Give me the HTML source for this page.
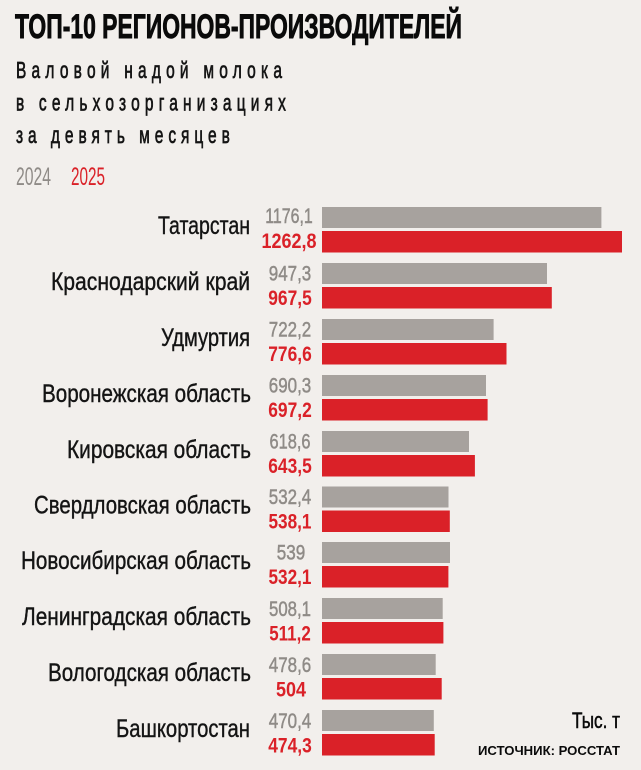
<!DOCTYPE html>
<html>
<head>
<meta charset="utf-8">
<style>
html,body{margin:0;padding:0;background:#f2efec;}
svg{display:block;}
text{font-family:"Liberation Sans","Noto Sans CJK SC",sans-serif;}
</style>
</head>
<body>
<svg width="641" height="770" viewBox="0 0 641 770" xmlns="http://www.w3.org/2000/svg">
<rect x="0" y="0" width="641" height="770" fill="#f2efec"/>

<!-- Title -->
<text x="15" y="38" font-size="34" font-weight="bold" fill="#0a0a0a" stroke="#0a0a0a" stroke-width="0.9" textLength="447" lengthAdjust="spacingAndGlyphs">ТОП-10 РЕГИОНОВ-ПРОИЗВОДИТЕЛЕЙ</text>

<!-- Subtitle -->
<g transform="translate(16,0) scale(0.66,1)" fill="#141414" stroke="#141414" stroke-width="0.7" font-size="23.5">
<text x="0" y="78" textLength="403" lengthAdjust="spacing">Валовой надой молока</text>
<text x="0" y="110.5" textLength="409" lengthAdjust="spacing">в сельхозорганизациях</text>
<text x="0" y="143" textLength="324" lengthAdjust="spacing">за девять месяцев</text>
</g>

<!-- Legend -->
<text x="16" y="185" font-size="25" fill="#8f8b87" textLength="35" lengthAdjust="spacingAndGlyphs">2024</text>
<text x="71" y="185" font-size="25" fill="#da2128" textLength="34" lengthAdjust="spacingAndGlyphs">2025</text>

<!-- Bars -->
<g>
<rect x="322" y="207" width="279.4" height="21" fill="#a7a29e"/>
<rect x="322" y="231" width="300" height="21.5" fill="#da2128"/>

<rect x="322" y="263" width="225" height="21" fill="#a7a29e"/>
<rect x="322" y="287" width="229.8" height="21.5" fill="#da2128"/>

<rect x="322" y="319" width="171.6" height="21" fill="#a7a29e"/>
<rect x="322" y="343" width="184.5" height="21.5" fill="#da2128"/>

<rect x="322" y="375" width="164" height="21" fill="#a7a29e"/>
<rect x="322" y="399" width="165.6" height="21.5" fill="#da2128"/>

<rect x="322" y="431" width="147" height="21" fill="#a7a29e"/>
<rect x="322" y="455" width="152.9" height="21.5" fill="#da2128"/>

<rect x="322" y="486.5" width="126.5" height="21" fill="#a7a29e"/>
<rect x="322" y="510.5" width="127.8" height="21.5" fill="#da2128"/>

<rect x="322" y="542" width="128" height="21" fill="#a7a29e"/>
<rect x="322" y="566" width="126.4" height="21.5" fill="#da2128"/>

<rect x="322" y="598" width="120.7" height="21" fill="#a7a29e"/>
<rect x="322" y="622" width="121.4" height="21.5" fill="#da2128"/>

<rect x="322" y="654" width="113.7" height="21" fill="#a7a29e"/>
<rect x="322" y="678" width="119.7" height="21.5" fill="#da2128"/>

<rect x="322" y="710" width="111.8" height="21" fill="#a7a29e"/>
<rect x="322" y="734" width="112.7" height="21.5" fill="#da2128"/>
</g>

<!-- Region labels -->
<g font-size="25" fill="#141414" stroke="#141414" stroke-width="0.4" text-anchor="end">
<text x="250" y="234" textLength="92" lengthAdjust="spacingAndGlyphs">Татарстан</text>
<text x="250" y="290" textLength="199" lengthAdjust="spacingAndGlyphs">Краснодарский край</text>
<text x="250" y="346" textLength="89" lengthAdjust="spacingAndGlyphs">Удмуртия</text>
<text x="251" y="402" textLength="209" lengthAdjust="spacingAndGlyphs">Воронежская область</text>
<text x="251" y="458" textLength="184" lengthAdjust="spacingAndGlyphs">Кировская область</text>
<text x="251" y="513.5" textLength="217" lengthAdjust="spacingAndGlyphs">Свердловская область</text>
<text x="251" y="569" textLength="230" lengthAdjust="spacingAndGlyphs">Новосибирская область</text>
<text x="251" y="625" textLength="229" lengthAdjust="spacingAndGlyphs">Ленинградская область</text>
<text x="251" y="681" textLength="203" lengthAdjust="spacingAndGlyphs">Вологодская область</text>
<text x="250" y="737" textLength="134" lengthAdjust="spacingAndGlyphs">Башкортостан</text>
</g>

<!-- Values 2024 -->
<g font-size="21.5" fill="#8f8b87" stroke="#8f8b87" stroke-width="0.5" text-anchor="middle">
<text x="289" y="223" textLength="47.5" lengthAdjust="spacingAndGlyphs">1176,1</text>
<text x="290" y="280.5" textLength="42.5" lengthAdjust="spacingAndGlyphs">947,3</text>
<text x="290" y="336.5" textLength="42.5" lengthAdjust="spacingAndGlyphs">722,2</text>
<text x="290" y="392.5" textLength="42.5" lengthAdjust="spacingAndGlyphs">690,3</text>
<text x="290" y="448.5" textLength="41" lengthAdjust="spacingAndGlyphs">618,6</text>
<text x="290" y="504" textLength="42.5" lengthAdjust="spacingAndGlyphs">532,4</text>
<text x="291" y="559.5" textLength="28.5" lengthAdjust="spacingAndGlyphs">539</text>
<text x="290" y="616" textLength="42" lengthAdjust="spacingAndGlyphs">508,1</text>
<text x="290" y="672" textLength="42.5" lengthAdjust="spacingAndGlyphs">478,6</text>
<text x="290" y="728" textLength="42.5" lengthAdjust="spacingAndGlyphs">470,4</text>
</g>

<!-- Values 2025 -->
<g font-size="21.5" font-weight="bold" fill="#da2128" text-anchor="middle">
<text x="289" y="248" textLength="55" lengthAdjust="spacingAndGlyphs">1262,8</text>
<text x="290" y="305" textLength="43.5" lengthAdjust="spacingAndGlyphs">967,5</text>
<text x="290" y="361" textLength="43.5" lengthAdjust="spacingAndGlyphs">776,6</text>
<text x="290" y="417" textLength="43.5" lengthAdjust="spacingAndGlyphs">697,2</text>
<text x="290" y="473" textLength="43.5" lengthAdjust="spacingAndGlyphs">643,5</text>
<text x="290" y="528.5" textLength="43" lengthAdjust="spacingAndGlyphs">538,1</text>
<text x="290" y="584" textLength="43" lengthAdjust="spacingAndGlyphs">532,1</text>
<text x="290" y="640.5" textLength="41.5" lengthAdjust="spacingAndGlyphs">511,2</text>
<text x="291" y="696.5" textLength="30" lengthAdjust="spacingAndGlyphs">504</text>
<text x="290" y="752.5" textLength="43.5" lengthAdjust="spacingAndGlyphs">474,3</text>
</g>

<!-- Units and source -->
<text x="620" y="728" font-size="22" fill="#0a0a0a" stroke="#0a0a0a" stroke-width="0.5" text-anchor="end" textLength="48" lengthAdjust="spacingAndGlyphs">Тыс. т</text>
<text x="620" y="755" font-size="12.5" font-weight="bold" fill="#0a0a0a" text-anchor="end" textLength="142" lengthAdjust="spacingAndGlyphs">ИСТОЧНИК: РОССТАТ</text>
</svg>
</body>
</html>
